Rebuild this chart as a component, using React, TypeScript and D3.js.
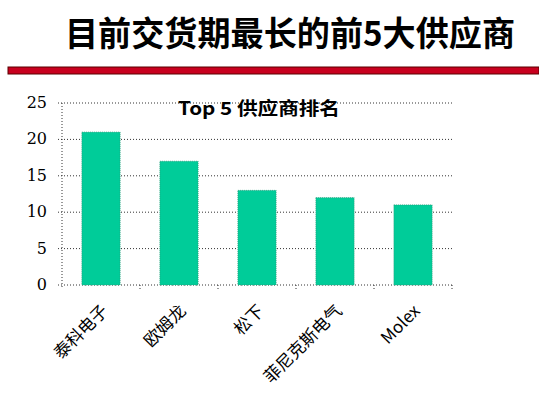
import React from "react";
import * as d3 from "d3";

const categories = ["泰科电子", "欧姆龙", "松下", "菲尼克斯电气", "Molex"];
const values = [21, 17, 13, 12, 11];
const yTicks = [0, 5, 10, 15, 20, 25];
const pageTitle = "目前交货期最长的前5大供应商";
const chartTitle = "Top 5 供应商排名";

export default function App() {
  const W = 539, H = 398;
  const left = 62, right = 452, top = 103, bottom = 285;
  const x = d3.scaleBand<string>().domain(categories).range([left, right]).paddingInner(0.51).paddingOuter(0.255);
  const xb = d3.scaleBand<string>().domain(categories).range([left, right]);
  const y = d3.scaleLinear().domain([0, 25]).range([bottom, top]);
  const font = "'Noto Sans CJK SC', 'DejaVu Sans', sans-serif";
  return (
    <svg width={W} height={H} style={{ position: "absolute", left: 0, top: 0 }} fontFamily={font}>
      <rect width={W} height={H} fill="#fff" />
      <text x={65} y={46} fontSize={34} fontWeight="bold" fill="#000" textLength={450} lengthAdjust="spacingAndGlyphs">{pageTitle}</text>
      <rect x={8} y={67} width={531} height={7} fill="#C8001E" stroke="#5a0000" strokeWidth={1} />
      {yTicks.map((t) => (
        <g key={t}>
          <line x1={left - 4} x2={right} y1={y(t)} y2={y(t)} stroke="#333" strokeWidth={1} strokeDasharray="1,2" />
          <text x={47} y={y(t) + 5} textAnchor="end" fontSize={16} fontFamily="'DejaVu Serif', serif" fill="#000">{t}</text>
        </g>
      ))}
      <line x1={left} x2={left} y1={top} y2={bottom + 4} stroke="#333" strokeDasharray="1,2" />
      {categories.map((c, i) => (
        <line key={"tk" + i} x1={(xb(c) ?? 0) + xb.bandwidth()} x2={(xb(c) ?? 0) + xb.bandwidth()} y1={bottom} y2={bottom + 4} stroke="#333" strokeDasharray="1,2" />
      ))}
      {categories.map((c, i) => (
        <rect key={c} x={x(c)} y={y(values[i])} width={x.bandwidth()} height={bottom - y(values[i])} fill="#00CC99" stroke="#2a9a78" strokeWidth={0.8} strokeDasharray="1,1" />
      ))}
      <text x={178} y={115} fontSize={18} fontWeight="bold" fill="#000" textLength={162} lengthAdjust="spacingAndGlyphs">{chartTitle}</text>
      {categories.map((c) => {
        const cx = (xb(c) ?? 0) + xb.bandwidth() / 2 + 8;
        const cy = 312;
        return (
          <text key={"l" + c} x={cx} y={cy} textAnchor="end" fontSize={17} fill="#000" transform={`rotate(-45, ${cx}, ${cy})`}>{c}</text>
        );
      })}
    </svg>
  );
}
